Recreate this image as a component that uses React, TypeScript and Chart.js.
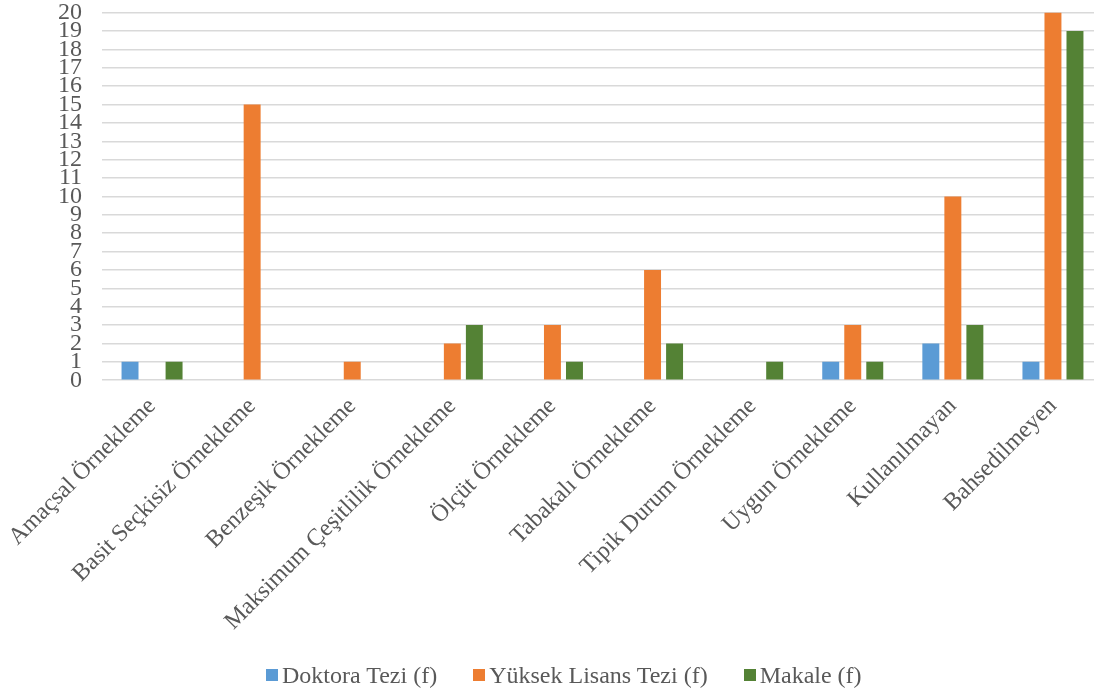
import React, { useEffect, useRef } from "react";
import { Chart, registerables } from "chart.js";

Chart.register(...registerables);

const categories = [
  "Amaçsal Örnekleme",
  "Basit Seçkisiz Örnekleme",
  "Benzeşik Örnekleme",
  "Maksimum Çeşitlilik Örnekleme",
  "Ölçüt Örnekleme",
  "Tabakalı Örnekleme",
  "Tipik Durum Örnekleme",
  "Uygun Örnekleme",
  "Kullanılmayan",
  "Bahsedilmeyen",
];
const doktora = [1, 0, 0, 0, 0, 0, 0, 1, 2, 1];
const yuksekLisans = [0, 15, 1, 2, 3, 6, 0, 3, 10, 20];
const makale = [1, 0, 0, 3, 1, 2, 1, 1, 3, 19];
const seriesNames = ["Doktora Tezi (f)", "Yüksek Lisans Tezi (f)", "Makale (f)"];
const seriesColors = ["#5B9BD5", "#ED7D31", "#548235"];

const FONT = "'Liberation Serif', 'Times New Roman', serif";
const TEXT = "#595959";

export default function App() {
  const ref = useRef<HTMLCanvasElement>(null);
  useEffect(() => {
    document.body.style.margin = "0";
    document.body.style.overflow = "hidden";
    const chart = new Chart(ref.current!, {
      type: "bar",
      data: {
        labels: categories,
        datasets: [
          { label: seriesNames[0], data: doktora, backgroundColor: seriesColors[0] },
          { label: seriesNames[1], data: yuksekLisans, backgroundColor: seriesColors[1] },
          { label: seriesNames[2], data: makale, backgroundColor: seriesColors[2] },
        ],
      },
      options: {
        animation: false,
        responsive: true,
        maintainAspectRatio: false,
        layout: { padding: { top: 0, right: 17, bottom: 53, left: 55 } },
        datasets: { bar: { categoryPercentage: 0.66, barPercentage: 0.77 } },
        plugins: {
          legend: { display: false },
          tooltip: { enabled: false },
        },
        scales: {
          x: {
            grid: { display: false },
            border: { display: false },
            ticks: {
              color: TEXT,
              font: { family: FONT, size: 24 },
              minRotation: 45,
              maxRotation: 45,
              autoSkip: false,
              padding: 4,
            },
          },
          y: {
            min: 0,
            max: 20,
            border: { display: false },
            grid: {
              color: "#d9d9d9",
              lineWidth: 1.5,
              drawTicks: true,
              tickLength: 17,
              tickColor: "rgba(0,0,0,0)",
            },
            ticks: {
              stepSize: 1,
              autoSkip: false,
              padding: 3,
              color: TEXT,
              font: { family: FONT, size: 24, lineHeight: 0.8 },
            },
          },
        },
      },
    });
    return () => chart.destroy();
  }, []);
  return (
    <div style={{ position: "absolute", left: 0, top: 0, width: 1120, height: 693 }}>
      <canvas ref={ref} />
      <div
        style={{
          position: "absolute",
          left: 266,
          top: 662,
          display: "flex",
          alignItems: "center",
          fontFamily: FONT,
          fontSize: 24,
          color: TEXT,
          whiteSpace: "nowrap",
          lineHeight: "26px",
        }}
      >
        {seriesNames.map((name, i) => (
          <div key={name} style={{ display: "flex", alignItems: "center", marginRight: 36 }}>
            <span
              style={{
                display: "inline-block",
                width: 12,
                height: 12,
                background: seriesColors[i],
                marginRight: 4,
              }}
            />
            <span>{name}</span>
          </div>
        ))}
      </div>
    </div>
  );
}
